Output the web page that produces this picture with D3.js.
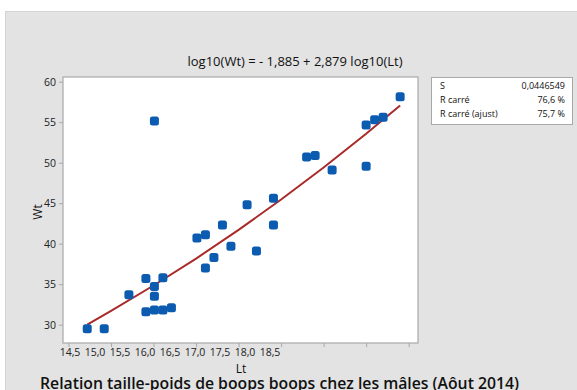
<!DOCTYPE html>
<html><head><meta charset="utf-8">
<script src="https://cdn.jsdelivr.net/npm/d3@7"></script>
<style>body{margin:0;background:#fff}svg{display:block}text{font-family:"Open Sans","Noto Sans",sans-serif}</style>
</head><body><svg id="c" width="577" height="390"></svg>
<script>
const lt = [14.72,14.92,15.21,15.41,15.41,15.51,15.51,15.51,15.61,15.61,15.71,16.01,16.11,16.11,16.21,16.31,16.41,16.60,16.71,16.91,16.91,17.30,17.40,17.60,18.00,18.00,18.10,18.20,18.40,15.51];
const wt = [29.5,29.5,33.7,35.7,31.6,34.7,33.5,31.8,35.8,31.8,32.1,40.7,41.1,37.0,38.3,42.3,39.7,44.8,39.1,45.6,42.3,50.7,50.9,49.1,49.55,54.65,55.3,55.6,58.15,55.15];
const fitLt = [14.72,15.0,15.5,16.0,16.5,17.0,17.5,18.0,18.4];
const fitWt = [30.0,31.7,34.84,38.16,41.71,45.45,49.40,53.57,57.07];
const xTicks = [14.5,15.0,15.5,16.0,16.5,17.0,17.5,18.0,18.5];
const xTickLabels = ["14,5","15,0","15,5","16,0","16,5","17,0","17,5","18,0","18,5"];
const yTicks = [30,35,40,45,50,55,60];
const statNames = ["S","R carré","R carré (ajust)"];
const statValues = ["0,0446549","76,6 %","75,7 %"];
const title = "log10(Wt) = - 1,885 + 2,879 log10(Lt)";
const caption = "Relation taille-poids de boops boops chez les mâles (Aôut 2014)";

const svg = d3.select("#c");
svg.append("rect").attr("x",5.5).attr("y",11.5).attr("width",575).attr("height",390)
  .attr("fill","#e3e3e3").attr("stroke","#d4d4d4");

const L=63, R=418, T=77, B=343;
const x = d3.scaleLinear().domain([14.435,18.61]).range([L,R]);
const y = d3.scaleLinear().domain([27.74,60.58]).range([B,T]);

svg.append("rect").attr("x",L).attr("y",T).attr("width",R-L).attr("height",B-T)
  .attr("fill","#fff").attr("stroke","#a8a8a8").attr("stroke-width",1.2);

const gx = svg.append("g").attr("transform",`translate(0,${B})`)
  .call(d3.axisBottom(x).tickValues(xTicks).tickSize(4).tickFormat(""));
gx.select(".domain").remove();
gx.selectAll("line").attr("stroke","#a8a8a8");
// tick labels (as drawn in reference: compressed spacing)
const xl = d3.scalePoint().domain(xTickLabels).range([70,270]);
svg.append("g").selectAll("text").data(xTickLabels).join("text")
  .attr("x",d=>xl(d)).attr("y",356).attr("text-anchor","middle")
  .attr("font-size",10.5).attr("fill","#222").text(d=>d);

const gy = svg.append("g").attr("transform",`translate(${L},0)`)
  .call(d3.axisLeft(y).tickValues(yTicks).tickSize(4).tickPadding(3).tickFormat(d=>d));
gy.select(".domain").remove();
gy.selectAll("line").attr("stroke","#a8a8a8");
gy.selectAll("text").attr("font-size",10.5).attr("fill","#222").attr("font-family","'Open Sans',sans-serif");

svg.append("text").attr("x",241).attr("y",373).attr("text-anchor","middle")
  .attr("font-size",12).attr("fill","#111").text("Lt");
svg.append("text").attr("transform","translate(42,212) rotate(-90)").attr("text-anchor","middle")
  .attr("font-size",12).attr("fill","#111").text("Wt");

svg.append("text").attr("x",295).attr("y",66).attr("text-anchor","middle")
  .attr("font-size",13).attr("fill","#111").text(title);

const line = d3.line().x((d,i)=>x(fitLt[i])).y((d,i)=>y(fitWt[i]));
svg.append("path").attr("d",line(fitLt)).attr("fill","none").attr("stroke","#a82a2a").attr("stroke-width",2);

svg.append("g").selectAll("rect").data(lt).join("rect")
  .attr("x",(d)=>x(d)-4.5).attr("y",(d,i)=>y(wt[i])-4.5).attr("width",9).attr("height",9)
  .attr("rx",2.5).attr("fill","#0b5bb0");

// stats box
svg.append("rect").attr("x",431.5).attr("y",77.5).attr("width",141).attr("height",47)
  .attr("fill","#fff").attr("stroke","#a8a8a8");
const rows = [88.5,102.5,116.5];
svg.append("g").selectAll("text").data(statNames).join("text")
  .attr("x",440).attr("y",(d,i)=>rows[i]).attr("font-size",9).attr("fill","#111").text(d=>d);
svg.append("g").selectAll("text").data(statValues).join("text")
  .attr("x",565).attr("y",(d,i)=>rows[i]).attr("text-anchor","end").attr("font-size",9).attr("fill","#111").text(d=>d);

svg.append("text").attr("x",40).attr("y",389).attr("font-size",16).attr("font-weight",600)
  .attr("fill","#111").attr("textLength",479).attr("lengthAdjust","spacingAndGlyphs").text(caption);
</script></body></html>
